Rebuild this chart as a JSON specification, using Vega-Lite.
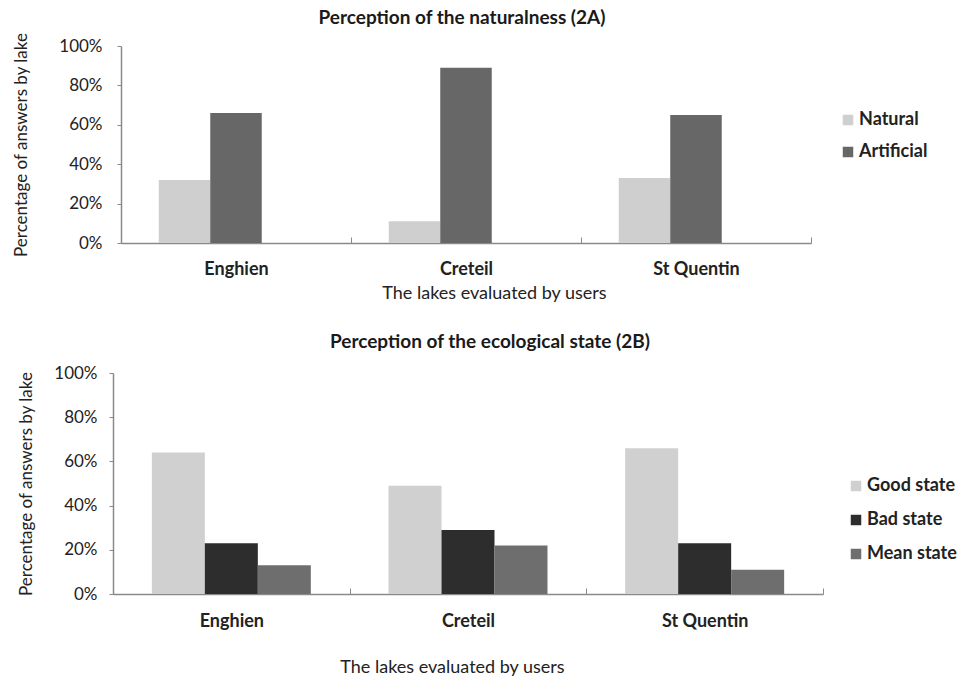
{
  "$schema": "https://vega.github.io/schema/vega-lite/v6.json",
  "background": "white",
  "padding": {"left": 12, "top": 9, "right": 5, "bottom": 5},
  "config": {
    "font": "Lato",
    "view": {"stroke": null},
    "axis": {
      "domainColor": "#8a8a8a",
      "domainWidth": 1.5,
      "tickColor": "#8a8a8a",
      "labelColor": "#222222",
      "titleColor": "#222222",
      "labelFontSize": 17,
      "titleFontSize": 17,
      "titleFontWeight": "normal",
      "grid": false
    },
    "legend": {
      "labelFontSize": 18,
      "labelFontWeight": "bold",
      "labelColor": "#222222",
      "symbolType": "square",
      "symbolSize": 110,
      "symbolStrokeWidth": 0,
      "labelOffset": 2,
      "padding": 0
    }
  },
  "datasets": {
    "nat": [
      {"lake": "Enghien", "answer": "Natural", "pct": 32},
      {"lake": "Enghien", "answer": "Artificial", "pct": 66},
      {"lake": "Creteil", "answer": "Natural", "pct": 11},
      {"lake": "Creteil", "answer": "Artificial", "pct": 89},
      {"lake": "St Quentin", "answer": "Natural", "pct": 33},
      {"lake": "St Quentin", "answer": "Artificial", "pct": 65}
    ],
    "eco": [
      {"lake": "Enghien", "answer": "Good state", "pct": 64},
      {"lake": "Enghien", "answer": "Bad state", "pct": 23},
      {"lake": "Enghien", "answer": "Mean state", "pct": 13},
      {"lake": "Creteil", "answer": "Good state", "pct": 49},
      {"lake": "Creteil", "answer": "Bad state", "pct": 29},
      {"lake": "Creteil", "answer": "Mean state", "pct": 22},
      {"lake": "St Quentin", "answer": "Good state", "pct": 66},
      {"lake": "St Quentin", "answer": "Bad state", "pct": 23},
      {"lake": "St Quentin", "answer": "Mean state", "pct": 11}
    ]
  },
  "spacing": 31,
  "resolve": {
    "scale": {"x": "independent", "y": "independent", "xOffset": "independent", "color": "independent"},
    "legend": {"color": "independent"}
  },
  "vconcat": [
    {
      "title": {"text": "Perception of the naturalness (2A)", "fontSize": 19, "fontWeight": "bold", "color": "#1a1a1a", "offset": 4},
      "width": 698,
      "height": 197,
      "data": {"name": "nat"},
      "mark": {"type": "bar"},
      "encoding": {
        "x": {
          "field": "lake", "type": "nominal",
          "sort": ["Enghien", "Creteil", "St Quentin"],
          "scale": {"paddingInner": 0, "paddingOuter": 0, "range": [8, 698]},
          "axis": {
            "title": "The lakes evaluated by users",
            "titleFontSize": 18,
            "labelFontSize": 18,
            "labelAngle": 0,
            "labelFontWeight": "bold",
            "tickBand": "extent",
            "tickSize": -6,
            "labelPadding": 23,
            "titlePadding": 6,
            "titleX": 381
          }
        },
        "xOffset": {
          "field": "answer",
          "scale": {"domain": ["Natural", "Artificial", "none"], "paddingInner": 0, "paddingOuter": 0.733}
        },
        "y": {
          "field": "pct", "type": "quantitative",
          "scale": {"domain": [0, 100]},
          "axis": {
            "title": "Percentage of answers by lake",
            "values": [0, 20, 40, 60, 80, 100],
            "labelExpr": "datum.value + '%'",
            "offset": -8,
            "tickSize": 4,
            "labelPadding": 15,
            "titlePadding": 28
          }
        },
        "color": {
          "field": "answer", "type": "nominal",
          "scale": {"domain": ["Natural", "Artificial"], "range": ["#cfcfcf", "#676767"]},
          "legend": {"title": null, "orient": "none", "legendX": 726, "legendY": 65, "rowPadding": 14}
        }
      }
    },
    {
      "title": {"text": "Perception of the ecological state (2B)", "fontSize": 19, "fontWeight": "bold", "color": "#1a1a1a", "offset": 12, "dx": 22},
      "width": 710,
      "height": 221,
      "data": {"name": "eco"},
      "mark": {"type": "bar"},
      "encoding": {
        "x": {
          "field": "lake", "type": "nominal",
          "sort": ["Enghien", "Creteil", "St Quentin"],
          "scale": {"paddingInner": 0, "paddingOuter": 0},
          "axis": {
            "title": "The lakes evaluated by users",
            "titleFontSize": 18,
            "labelFontSize": 18,
            "labelAngle": 0,
            "labelFontWeight": "bold",
            "tickBand": "extent",
            "tickSize": -6,
            "labelPadding": 24,
            "titlePadding": 28,
            "titleX": 339
          }
        },
        "xOffset": {
          "field": "answer",
          "scale": {"domain": ["Good state", "Bad state", "Mean state"], "paddingInner": 0, "paddingOuter": 0.733}
        },
        "y": {
          "field": "pct", "type": "quantitative",
          "scale": {"domain": [0, 100]},
          "axis": {
            "title": "Percentage of answers by lake",
            "values": [0, 20, 40, 60, 80, 100],
            "labelExpr": "datum.value + '%'",
            "tickSize": 4,
            "labelPadding": 12,
            "titlePadding": 18
          }
        },
        "color": {
          "field": "answer", "type": "nominal",
          "scale": {"domain": ["Good state", "Bad state", "Mean state"], "range": ["#d0d0d0", "#2d2d2d", "#6e6e6e"]},
          "legend": {"title": null, "orient": "none", "legendX": 734, "legendY": 104, "rowPadding": 16}
        }
      }
    }
  ]
}
